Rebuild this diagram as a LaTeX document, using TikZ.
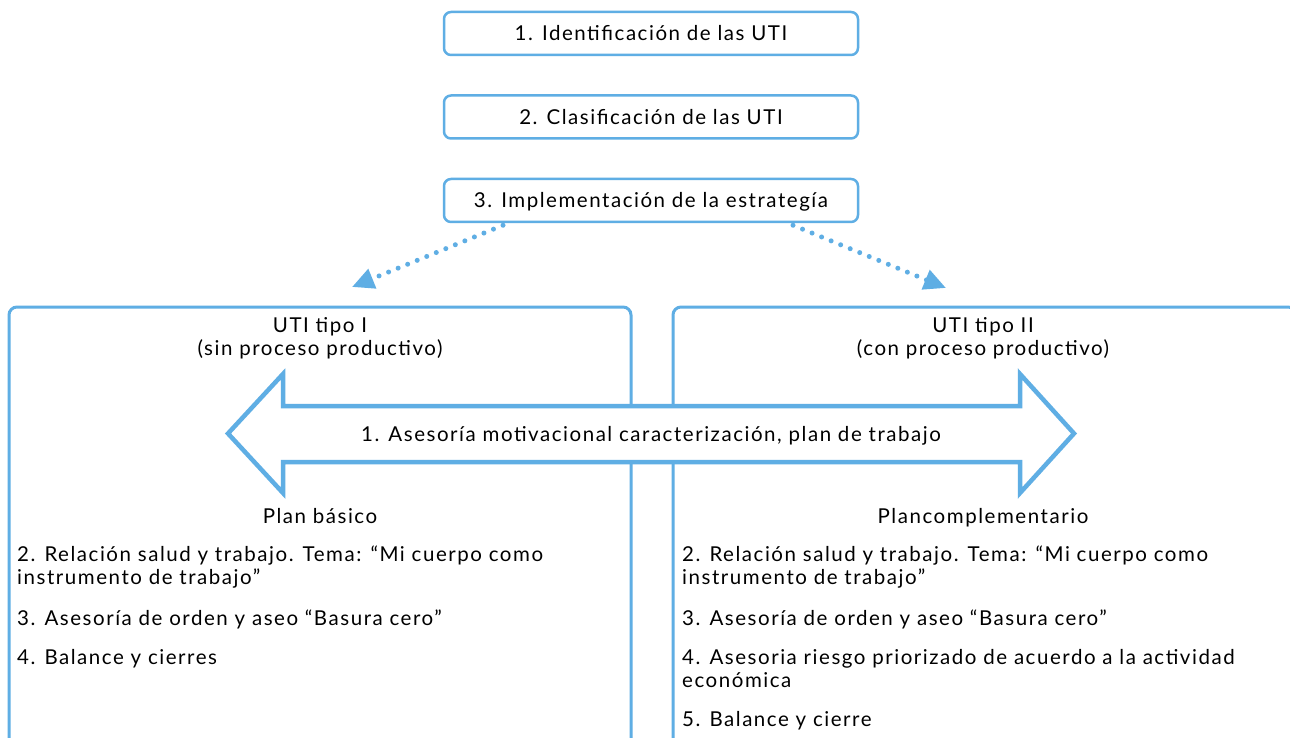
\documentclass[tikz,border=0pt]{standalone}
\usepackage{fontspec}
\setmainfont{Lato}[LetterSpace=7.5]
\usetikzlibrary{arrows.meta}
\definecolor{uiblue}{RGB}{95,174,228}
\begin{document}
\begin{tikzpicture}[x=1pt,y=-1pt,
  every node/.style={font=\fontsize{20.5}{23}\selectfont, inner sep=0pt, text=black},
  stepbox/.style={draw=uiblue, line width=2.5pt, rounded corners=7pt, minimum width=414pt, minimum height=43pt, text height=14.4pt, text depth=0pt, fill=white},
  panel/.style={draw=uiblue, line width=3pt, rounded corners=8pt},
  dotarrow/.style={draw=uiblue, line width=5pt, line cap=round, dash pattern=on 0pt off 10.3pt, -{Triangle[length=22pt,width=20pt,fill=uiblue]}},
  bigarrow/.style={draw=uiblue, line width=4.5pt, fill=white, line join=miter},
  title/.style={anchor=north, align=center},
  item/.style={anchor=north west, align=left}
]
\useasboundingbox (0,0) rectangle (1290,738);
\fill[white] (0,0) rectangle (1290,738);

% panels
\draw[panel] (9,745) -- (9,307) -- (631,307) -- (631,745);
\draw[panel] (673,745) -- (673,307) -- (1296,307) -- (1296,745);

% top boxes
\node[stepbox] (b1) at (651,33.5) {1. Identificación de las UTI};
\node[stepbox] (b2) at (651,117) {2. Clasificación de las UTI};
\node[stepbox] (b3) at (651,200.5) {3. Implementación de la estrategía};

% dotted connectors
\coordinate (t1) at (352,287);
\coordinate (t2) at (946,288);
\draw[dotarrow] ([xshift=-148pt,yshift=-2pt]b3.south) -- (t1);
\draw[dotarrow] ([xshift=142pt,yshift=-2pt]b3.south) -- (t2);

% double arrow
\draw[bigarrow] (228,433.5) -- (283,374) -- (283,406) -- (1020,406) -- (1020,374)
  -- (1074,433.5) -- (1020,493) -- (1020,462) -- (283,462) -- (283,493) -- cycle;
\node[anchor=base] (asesoria) at (651,441) {1. Asesoría motivacional caracterización, plan de trabajo};

% panel titles
\node[title] (tipo1) at (320,316) {\strut UTI tipo I\\\strut(sin proceso productivo)};
\node[title] (tipo2) at (983,316) {\strut UTI tipo II\\\strut(con proceso productivo)};
\node[title] (basico) at (320,507) {\strut Plan básico};
\node[title] (compl) at (983,507) {\strut Plancomplementario};

% left items
\node[item] (l2) at (17,545) {\strut 2. Relación salud y trabajo. Tema: “Mi cuerpo como\\\strut instrumento de trabajo”};
\node[item] (l3) at (17,609) {\strut 3. Asesoría de orden y aseo “Basura cero”};
\node[item] (l4) at (17,648) {\strut 4. Balance y cierres};

% right items
\node[item] (r2) at (682,545) {\strut 2. Relación salud y trabajo. Tema: “Mi cuerpo como\\\strut instrumento de trabajo”};
\node[item] (r3) at (682,609) {\strut 3. Asesoría de orden y aseo “Basura cero”};
\node[item] (r4) at (682,648) {\strut 4. Asesoria riesgo priorizado de acuerdo a la actividad\\\strut económica};
\node[item] (r5) at (682,710) {\strut 5. Balance y cierre};
\end{tikzpicture}
\end{document}
